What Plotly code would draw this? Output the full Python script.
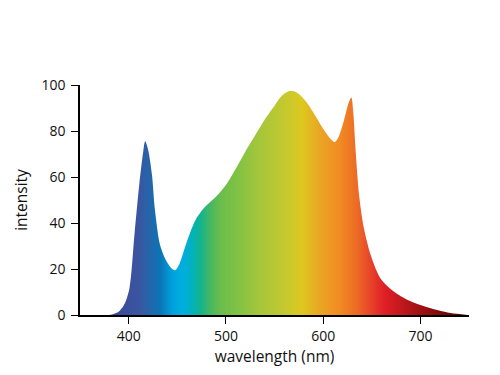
import plotly.graph_objects as go

wavelength = [350, 380, 383, 390, 396, 401, 406, 411, 415, 417, 420, 424, 427, 432, 437, 441, 445, 448, 452, 458, 463, 469, 477, 490, 500,
              510, 520, 530, 540, 550, 558, 564, 570, 576, 583, 590, 597, 604, 609, 612, 616, 621, 626, 629, 631, 633.5, 637, 642, 649,
              659, 673, 687, 700, 714, 728, 740, 748, 750]
intensity = [0, 0, 0.2, 1.5, 5, 12, 35, 57, 71, 75.5, 72, 61, 46, 31, 25, 22, 20, 19.5, 22, 29.5, 35.5, 41.5, 46.3, 51.5, 56.5,
             63.5, 71, 78, 85, 91, 95.5, 97.2, 97.3, 95.8, 92.5, 88, 83, 78.5, 76, 75.2, 77.5, 84, 92, 94.6, 88, 71, 52, 37.6, 26,
             15.9, 10.1, 6.5, 4.3, 2.5, 1.1, 0.4, 0.05, 0]

grad_wl = [350, 385, 410, 425, 432, 445, 455, 463, 474, 485, 495, 510, 535, 560, 578, 597, 618, 635, 650, 663, 690, 720, 745, 750]
grad_col = ["#3b4a99", "#3b4a99", "#3b55a0", "#1d6aad", "#0a74b5", "#00a0dc", "#00aee0", "#00b0c8", "#12b48c", "#4ab85e",
            "#6cbd4c", "#7dc245", "#a6c63a", "#c3c92f", "#ddc81f", "#eaa524", "#f08a22", "#ec6a26", "#e6402a", "#e01f26",
            "#b01518", "#800a0a", "#500505", "#500505"]

x_ticks = [400, 500, 600, 700]
y_ticks = [0, 20, 40, 60, 80, 100]

lo, hi = 350, 750
colorscale = [[(w - lo) / (hi - lo), c] for w, c in zip(grad_wl, grad_col)]

fig = go.Figure()
fig.add_trace(go.Scatter(
    x=wavelength, y=intensity, mode="lines",
    line=dict(width=0, shape="spline", smoothing=0.8, color="rgba(0,0,0,0)"),
    fill="tozeroy",
    fillgradient=dict(type="horizontal", colorscale=colorscale, start=lo, stop=hi),
    hoverinfo="skip", showlegend=False,
))

font = dict(family="Open Sans, Liberation Sans, sans-serif", color="#111111")
fig.update_layout(
    width=500, height=375,
    margin=dict(l=72, r=39, t=77, b=68),
    paper_bgcolor="white", plot_bgcolor="white",
    font=font,
    xaxis=dict(range=[lo, hi], tickvals=x_ticks, showgrid=False, zeroline=False,
               showline=True, linecolor="black", linewidth=1.5, ticks="outside", ticklen=7,
               tickcolor="black", tickwidth=1.2, tickfont=dict(size=14),
               title=dict(text="wavelength (nm)", font=dict(size=15.5), standoff=8)),
    yaxis=dict(range=[0, 100], tickvals=y_ticks, showgrid=False, zeroline=False,
               showline=True, linecolor="black", linewidth=1.5, ticks="outside", ticklen=7,
               tickcolor="black", tickwidth=1.2, tickfont=dict(size=14), ticklabelstandoff=3,
               title=dict(text="intensity", font=dict(size=15.5), standoff=10)),
)
fig.write_html("out.html")
